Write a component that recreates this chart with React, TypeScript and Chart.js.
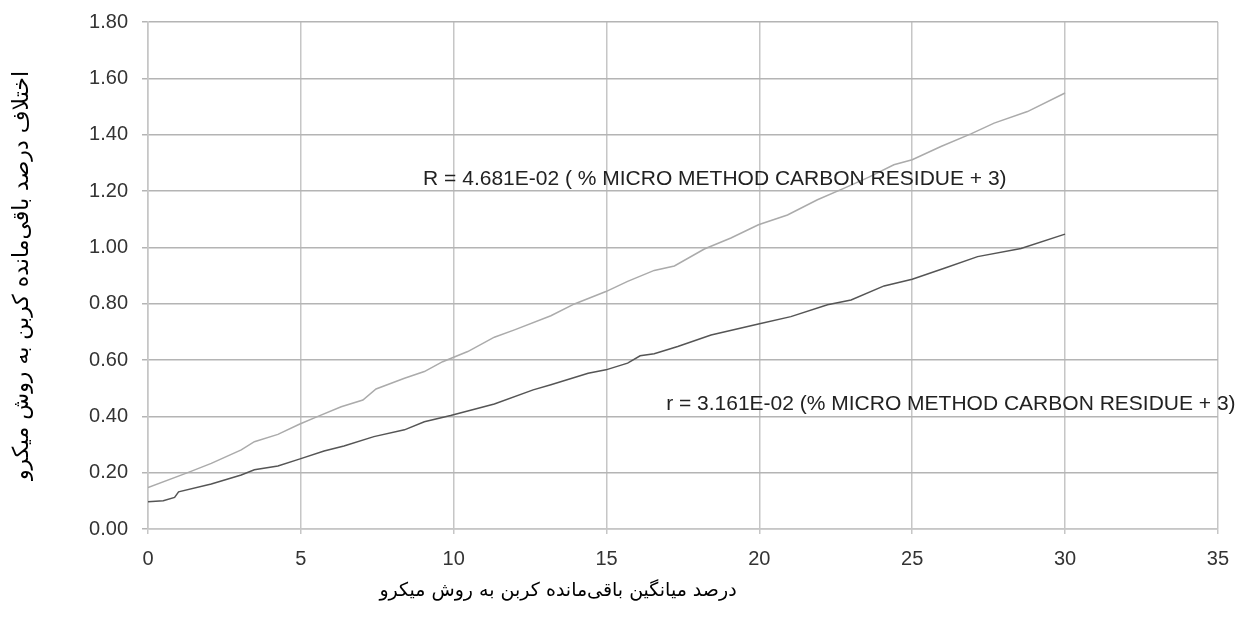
import { useEffect, useRef } from "react";
import { Chart, registerables } from "chart.js";

Chart.register(...registerables);

// ---- data ----
const xTickValues = [0, 5, 10, 15, 20, 25, 30, 35];
const yTickValues = [0, 0.2, 0.4, 0.6, 0.8, 1.0, 1.2, 1.4, 1.6, 1.8];

// Upper (light gray) curve: R
const upperX = [0, 1.3, 2.07, 3.05, 3.48, 4.25, 4.95, 5.54, 6.32, 7.03, 7.46, 8.39, 9.04, 9.64, 10.46, 11.33, 11.99, 13.18, 13.95, 14.98, 15.69, 16.56, 17.22, 18.2, 19.07, 19.97, 20.92, 21.9, 22.78, 23.6, 24.4, 25.0, 25.94, 26.92, 27.68, 28.77, 30.0];
const upperY = [0.147, 0.2, 0.233, 0.281, 0.31, 0.336, 0.372, 0.399, 0.434, 0.458, 0.497, 0.535, 0.559, 0.594, 0.63, 0.681, 0.707, 0.757, 0.799, 0.843, 0.879, 0.918, 0.934, 0.994, 1.033, 1.08, 1.115, 1.169, 1.21, 1.25, 1.293, 1.311, 1.358, 1.403, 1.441, 1.482, 1.548];

// Lower (dark gray) curve: r
const lowerX = [0, 0.5, 0.87, 1.0, 2.07, 3.05, 3.48, 4.25, 4.95, 5.76, 6.41, 7.39, 8.39, 9.04, 9.9, 11.33, 12.6, 13.18, 14.4, 14.98, 15.69, 16.1, 16.56, 17.33, 18.42, 19.97, 21.03, 22.23, 23.0, 24.08, 25.0, 26.05, 27.14, 28.56, 30.0];
const lowerY = [0.097, 0.1, 0.112, 0.132, 0.16, 0.192, 0.21, 0.224, 0.248, 0.277, 0.295, 0.328, 0.352, 0.381, 0.403, 0.444, 0.494, 0.512, 0.553, 0.565, 0.589, 0.615, 0.622, 0.648, 0.689, 0.728, 0.754, 0.796, 0.813, 0.863, 0.887, 0.926, 0.967, 0.996, 1.047];

const upperLabel = "R = 4.681E-02 ( % MICRO METHOD CARBON RESIDUE + 3)";
const lowerLabel = "r = 3.161E-02 (% MICRO METHOD CARBON RESIDUE + 3)";
const upperLabelAt = [9.0, 1.243];
const lowerLabelAt = [16.95, 0.444];

const xTitle = "درصد میانگین باقی\u200cمانده کربن به روش میکرو";
const yTitle = "اختلاف درصد باقی\u200cمانده کربن به روش میکرو";

const labelPlugin = {
  id: "equationLabels",
  afterDatasetsDraw(chart: any) {
    const { ctx, scales, chartArea } = chart;
    const xs = scales.x;
    const ys = scales.y;
    ctx.save();
    ctx.font = '21px "Liberation Sans", Arial, sans-serif';
    ctx.fillStyle = "#222";
    ctx.textAlign = "left";
    ctx.textBaseline = "middle";
    ctx.fillText(upperLabel, xs.getPixelForValue(upperLabelAt[0]), ys.getPixelForValue(upperLabelAt[1]));
    ctx.fillText(lowerLabel, xs.getPixelForValue(lowerLabelAt[0]), ys.getPixelForValue(lowerLabelAt[1]));

    // x-axis title
    ctx.font = '19px "DejaVu Sans", sans-serif';
    ctx.fillStyle = "#000";
    ctx.textAlign = "center";
    ctx.textBaseline = "middle";
    ctx.fillText(xTitle, chartArea.left + 410, chartArea.bottom + 62);
    ctx.restore();
  },
};

export default function App() {
  const ref = useRef<HTMLCanvasElement | null>(null);

  useEffect(() => {
    if (!ref.current) return;
    const chart = new Chart(ref.current, {
      type: "scatter",
      data: {
        datasets: [
          {
            label: "R",
            data: upperX.map((x, i) => ({ x, y: upperY[i] })),
            showLine: true,
            borderColor: "#ababab",
            borderWidth: 1.5,
            pointRadius: 0,
            tension: 0,
          },
          {
            label: "r",
            data: lowerX.map((x, i) => ({ x, y: lowerY[i] })),
            showLine: true,
            borderColor: "#555555",
            borderWidth: 1.5,
            pointRadius: 0,
            tension: 0,
          },
        ],
      },
      options: {
        animation: false,
        responsive: false,
        layout: { padding: { left: 0, right: 23, top: 22, bottom: 0 } },
        plugins: { legend: { display: false }, tooltip: { enabled: false } },
        scales: {
          x: {
            type: "linear",
            min: 0,
            max: 35,
            afterBuildTicks: (scale: any) => {
              scale.ticks = xTickValues.map((v) => ({ value: v }));
            },
            afterFit: (scale: any) => {
              scale.height = 88;
            },
            ticks: {
              color: "#333",
              font: { family: '"Liberation Sans", Arial, sans-serif', size: 20 },
              padding: 13,
              maxRotation: 0,
              callback: (v: any) => String(v),
            },
            grid: { color: "#c6c6c6", lineWidth: 1.5, tickLength: 5 },
            border: { color: "#c6c6c6", width: 1.5 },
          },
          y: {
            type: "linear",
            min: 0,
            max: 1.8,
            afterBuildTicks: (scale: any) => {
              scale.ticks = yTickValues.map((v) => ({ value: v }));
            },
            afterFit: (scale: any) => {
              scale.width = 148;
              scale.paddingTop = 0;
              scale.paddingBottom = 0;
            },
            ticks: {
              color: "#333",
              font: { family: '"Liberation Sans", Arial, sans-serif', size: 20 },
              padding: 14,
              callback: (v: any) => Number(v).toFixed(2),
            },
            grid: { color: "#b4b4b4", lineWidth: 1.5, tickLength: 6 },
            border: { color: "#c6c6c6", width: 1.5 },
            title: {
              display: true,
              text: yTitle,
              color: "#000",
              font: { family: '"DejaVu Sans", sans-serif', size: 22 },
              padding: { top: 9, bottom: 0 },
            },
          },
        },
      },
      plugins: [labelPlugin],
    });
    return () => chart.destroy();
  }, []);

  return (
    <div style={{ position: "fixed", left: 0, top: 0, width: 1242, height: 617, background: "#fff" }}>
      <canvas ref={ref} width={1242} height={617} style={{ width: 1242, height: 617, display: "block" }} />
    </div>
  );
}
